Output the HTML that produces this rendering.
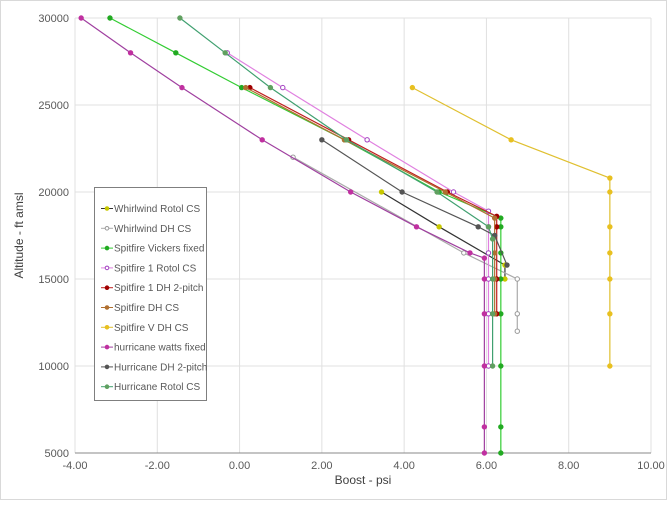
<!DOCTYPE html>
<html><head><meta charset="utf-8"><style>
body{margin:0;background:#fff;font-family:"Liberation Sans",sans-serif}
#wrap{position:relative;width:667px;height:500px;border:1px solid #d9d9d9;box-sizing:border-box}
text{font-family:"Liberation Sans",sans-serif}
</style></head><body>
<div id="wrap">
<svg id="chart" width="667" height="500"></svg>
</div>
<script>
const xTicks=[-4,-2,0,2,4,6,8,10];
const xTickLabels=["-4.00","-2.00","0.00","2.00","4.00","6.00","8.00","10.00"];
const yTicks=[5000,10000,15000,20000,25000,30000];
const yTickLabels=["5000","10000","15000","20000","25000","30000"];
const seriesNames=["Whirlwind Rotol CS","Whirlwind DH CS","Spitfire Vickers fixed","Spitfire 1 Rotol CS","Spitfire 1 DH 2-pitch","Spitfire DH CS","Spitfire V DH CS","hurricane watts fixed","Hurricane DH 2-pitch","Hurricane Rotol CS"];
const whirlwindRotol=[[3.45,20000],[4.85,18000],[6.45,15800],[6.45,15000]];
const whirlwindDH=[[1.3,22000],[5.45,16500],[6.75,15000],[6.75,13000],[6.75,12000]];
const spitVickers=[[-3.15,30000],[-1.55,28000],[0.05,26000],[2.55,23000],[4.85,20000],[6.35,18500],[6.35,18000],[6.35,16500],[6.35,15000],[6.35,13000],[6.35,10000],[6.35,6500],[6.35,5000]];
const spit1Rotol=[[-0.3,28000],[1.05,26000],[3.1,23000],[5.2,20000],[6.05,18900],[6.05,18000],[6.05,16500],[6.05,15000],[6.05,13000],[6.05,10000]];
const spit1DH=[[0.25,26000],[2.65,23000],[5.05,20000],[6.25,18600],[6.25,18000],[6.25,15000],[6.25,13000]];
const spitDHCS=[[0.15,26000],[2.55,23000],[5.0,20000],[6.2,18500],[6.2,16500],[6.2,15000],[6.2,13000]];
const spitV=[[4.2,26000],[6.6,23000],[9.0,20800],[9.0,20000],[9.0,18000],[9.0,16500],[9.0,15000],[9.0,13000],[9.0,10000]];
const hurriWatts=[[-3.85,30000],[-2.65,28000],[-1.4,26000],[0.55,23000],[2.7,20000],[4.3,18000],[5.6,16500],[5.95,16200],[5.95,15000],[5.95,13000],[5.95,10000],[5.95,6500],[5.95,5000]];
const hurriDH=[[2.0,23000],[3.95,20000],[5.8,18000],[6.2,17500],[6.5,15800]];
const hurriRotol=[[-1.45,30000],[-0.35,28000],[0.75,26000],[2.6,23000],[4.8,20000],[6.05,18000],[6.15,17300],[6.15,15000],[6.15,13000],[6.15,10000]];
const allSeries=[whirlwindRotol,whirlwindDH,spitVickers,spit1Rotol,spit1DH,spitDHCS,spitV,hurriWatts,hurriDH,hurriRotol];
const lineColors=["#333333","#aaaaaa","#33cc33","#e080e0","#c02020","#b07030","#e0c030","#a040a0","#555555","#40a070"];
const markColors=["#c8c800","#999999","#22aa22","#a040c0","#a00000","#b07030","#e8c020","#c030a0","#555555","#60a060"];
const L=74,R=650,T=17,B=452;
const xMin=-4,xMax=10,yMin=5000,yMax=30000;
const sx=v=>L+(v-xMin)/(xMax-xMin)*(R-L);
const sy=v=>B-(v-yMin)/(yMax-yMin)*(B-T);
const svg=document.getElementById('chart');
const NS="http://www.w3.org/2000/svg";
function mk(tag,attrs,parent){const e=document.createElementNS(NS,tag);for(const k in attrs)e.setAttribute(k,attrs[k]);(parent||svg).appendChild(e);return e;}
xTicks.forEach((t,i)=>{
 const g=mk('line',{x1:sx(t),x2:sx(t),y1:T,y2:B,stroke:'#e0e0e0','stroke-width':1});
 
 
 const tx=mk('text',{x:sx(t),y:B+16,'text-anchor':'middle','font-size':11,fill:'#595959'});
 tx.textContent=xTickLabels[i];
 
 
});
yTicks.forEach((t,i)=>{
 const g=mk('line',{x1:L,x2:R,y1:sy(t),y2:sy(t),stroke:'#e0e0e0','stroke-width':1});
 
 
 const tx=mk('text',{x:L-6,y:sy(t)+4,'text-anchor':'end','font-size':11,fill:'#595959'});
 tx.textContent=yTickLabels[i];
 
 
});
const ax=mk('line',{x1:L,x2:R,y1:B,y2:B,stroke:'#888','stroke-width':1});


allSeries.forEach((s,i)=>{
 const g=mk('g',{});
 
 
 const pl=mk('polyline',{points:s.map(p=>sx(p[0])+','+sy(p[1])).join(' '),fill:'none',stroke:lineColors[i],'stroke-width':1.2},g);
 
 
 s.forEach(p=>{
  const c=mk('circle',{cx:sx(p[0]),cy:sy(p[1]),r:2.2,fill:(i==1||i==3)?'#fff':markColors[i],stroke:markColors[i],'stroke-width':1},g);
  
  
 });
});
const yt=mk('text',{x:22,y:(T+B)/2,'text-anchor':'middle','font-size':12,fill:'#404040',transform:`rotate(-90 22 ${(T+B)/2})`});
yt.textContent="Altitude - ft amsl";


const xt=mk('text',{x:(L+R)/2,y:483,'text-anchor':'middle','font-size':12,fill:'#404040'});
xt.textContent="Boost - psi";


const lg=mk('g',{});


mk('rect',{x:93.5,y:186.5,width:112,height:213,fill:'#fff',stroke:'#7f7f7f','stroke-width':1},lg);
seriesNames.forEach((n,i)=>{
 const y=211+i*19.8;
 const e=mk('g',{},lg);
 
 
 mk('line',{x1:100,x2:112,y1:y-3.5,y2:y-3.5,stroke:lineColors[i],'stroke-width':1},e);
 mk('circle',{cx:106,cy:y-3.5,r:1.8,fill:(i==1||i==3)?'#fff':markColors[i],stroke:markColors[i]},e);
 const t=mk('text',{x:113,y:y,'font-size':10,fill:'#595959'},e);
 t.textContent=n;
});
</script>
</body></html>
